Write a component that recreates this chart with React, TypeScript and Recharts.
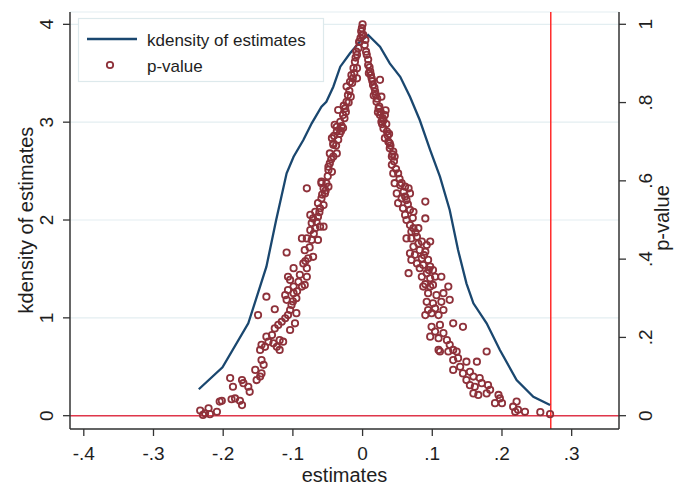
import { ComposedChart, Line, Scatter, XAxis, YAxis, CartesianGrid, ReferenceLine } from 'recharts';

const FONT = '"Liberation Sans", Arial, Helvetica, sans-serif';
const AXIS = '#333333';
const GRID = '#e3eef1';
const NAVY = '#1a476f';
const MAROON = '#8e313a';
const RED = '#ff2b2b';
const TEXT = '#1e1e1e';

// axis ticks
const X_TICKS = [-0.4, -0.3, -0.2, -0.1, 0, 0.1, 0.2, 0.3];
const X_LABELS = ['-.4', '-.3', '-.2', '-.1', '0', '.1', '.2', '.3'];
const DENS_TICKS = [0, 1, 2, 3, 4];
const P_TICKS = [0, 0.2, 0.4, 0.6, 0.8, 1];
const P_LABELS = ['0', '.2', '.4', '.6', '.8', '1'];

const ESTIMATE = 0.27;

// kdensity of estimates
const kdX = [
  -0.235, -0.201, -0.164, -0.138, -0.124, -0.109, -0.099, -0.085, -0.073, -0.059, -0.052,
  -0.042, -0.032, -0.018, -0.004, 0.008, 0.025, 0.039, 0.054, 0.068, 0.082, 0.097, 0.111,
  0.125, 0.137, 0.149, 0.159, 0.178, 0.197, 0.221, 0.245, 0.269,
];
const kdY = [
  0.27, 0.495, 0.944, 1.523, 2.0, 2.477, 2.647, 2.818, 2.988, 3.158, 3.209,
  3.362, 3.567, 3.704, 3.822, 3.891, 3.771, 3.601, 3.464, 3.26, 3.022, 2.715, 2.443,
  2.102, 1.693, 1.353, 1.149, 0.944, 0.671, 0.365, 0.194, 0.109,
];

// p-values, left of zero: [estimate, p]
const pLeft: [number, number][] = [
  [-0.233, 0.013], [-0.226, 0.006], [-0.221, 0.019], [-0.209, 0.01], [-0.219, 0.004], [-0.229, 0.002],
  [-0.205, 0.036], [-0.202, 0.038], [-0.188, 0.042], [-0.183, 0.044], [-0.176, 0.038], [-0.173, 0.027],
  [-0.19, 0.096], [-0.186, 0.074], [-0.173, 0.091], [-0.171, 0.083], [-0.164, 0.074], [-0.162, 0.061],
  [-0.154, 0.117], [-0.152, 0.091], [-0.147, 0.1], [-0.145, 0.108], [-0.142, 0.13], [-0.145, 0.142],
  [-0.147, 0.168], [-0.145, 0.181], [-0.14, 0.176], [-0.135, 0.189], [-0.138, 0.202], [-0.13, 0.206],
  [-0.128, 0.185], [-0.123, 0.176], [-0.119, 0.168], [-0.114, 0.189], [-0.119, 0.193], [-0.15, 0.257],
  [-0.138, 0.304], [-0.126, 0.223], [-0.121, 0.232], [-0.116, 0.24], [-0.111, 0.249], [-0.107, 0.257],
  [-0.104, 0.27], [-0.102, 0.283], [-0.109, 0.296], [-0.111, 0.308], [-0.107, 0.321], [-0.099, 0.313],
  [-0.095, 0.3], [-0.097, 0.236], [-0.104, 0.219], [-0.095, 0.262], [-0.126, 0.272],
  [-0.08, 0.581], [-0.109, 0.417], [-0.099, 0.377], [-0.107, 0.355], [-0.104, 0.347], [-0.092, 0.342],
  [-0.087, 0.33], [-0.099, 0.33], [-0.08, 0.355], [-0.083, 0.334], [-0.08, 0.377], [-0.085, 0.389],
  [-0.078, 0.402], [-0.071, 0.406], [-0.083, 0.423], [-0.087, 0.453], [-0.08, 0.453], [-0.073, 0.449],
  [-0.064, 0.449], [-0.075, 0.474], [-0.073, 0.492], [-0.068, 0.479], [-0.061, 0.483], [-0.056, 0.483],
  [-0.075, 0.513], [-0.071, 0.504], [-0.064, 0.508], [-0.068, 0.521], [-0.061, 0.53], [-0.064, 0.543],
  [-0.056, 0.538], [-0.059, 0.555], [-0.054, 0.568], [-0.056, 0.581], [-0.049, 0.585], [-0.059, 0.594],
  [-0.052, 0.594], [-0.049, 0.628], [-0.044, 0.623], [-0.047, 0.645], [-0.042, 0.662], [-0.047, 0.67],
  [-0.037, 0.67], [-0.059, 0.598], [-0.049, 0.636],
  [-0.042, 0.692], [-0.044, 0.709], [-0.037, 0.726], [-0.04, 0.743], [-0.032, 0.751], [-0.028, 0.768],
  [-0.025, 0.785], [-0.023, 0.802], [-0.021, 0.819], [-0.023, 0.841], [-0.018, 0.853], [-0.016, 0.87],
  [-0.013, 0.888], [-0.011, 0.904], [-0.008, 0.922], [-0.006, 0.939], [-0.004, 0.956], [-0.001, 0.973],
  [-0.001, 0.99], [-0.009, 0.93], [-0.008, 0.888], [-0.008, 0.862], [-0.037, 0.738], [-0.035, 0.781],
  [-0.042, 0.696], [-0.03, 0.74], [-0.035, 0.705], [-0.02, 0.8], [-0.026, 0.76], [-0.015, 0.85],
  [-0.012, 0.875], [-0.019, 0.83], [-0.005, 0.955], [-0.003, 0.965], [-0.038, 0.69], [-0.033, 0.72],
  [-0.028, 0.735], [-0.024, 0.776], [-0.017, 0.815],
  [-0.045, 0.655], [-0.05, 0.612], [-0.053, 0.575], [-0.058, 0.565], [-0.062, 0.52], [-0.066, 0.495],
  [-0.07, 0.465], [-0.076, 0.43], [-0.082, 0.395], [-0.09, 0.36], [-0.094, 0.318], [-0.1, 0.292],
  [-0.041, 0.715], [-0.031, 0.727], [-0.027, 0.792], [-0.014, 0.862], [-0.01, 0.915], [-0.002, 0.982],
];

// p-values, right of zero
const pRight: [number, number][] = [
  [0.0, 1.0], [0.001, 0.973], [0.003, 0.947], [0.006, 0.922], [0.008, 0.896], [0.011, 0.879],
  [0.013, 0.862], [0.015, 0.845], [0.018, 0.828], [0.02, 0.802], [0.023, 0.785], [0.025, 0.768],
  [0.027, 0.751], [0.032, 0.768], [0.03, 0.734], [0.035, 0.726], [0.032, 0.709], [0.037, 0.7],
  [0.039, 0.683], [0.044, 0.675], [0.042, 0.662], [0.025, 0.858], [0.027, 0.815], [0.033, 0.78],
  [0.028, 0.745], [0.039, 0.696], [0.046, 0.662], [0.051, 0.619], [0.056, 0.594], [0.061, 0.56],
  [0.09, 0.547], [0.09, 0.504], [0.066, 0.581], [0.068, 0.568],
  [0.005, 0.93], [0.01, 0.89], [0.014, 0.855], [0.017, 0.838], [0.021, 0.81], [0.024, 0.79],
  [0.019, 0.82], [0.012, 0.87], [0.008, 0.91], [0.03, 0.755], [0.026, 0.776], [0.036, 0.716],
  [0.04, 0.69], [0.043, 0.668],
  [0.042, 0.641], [0.044, 0.619], [0.046, 0.594], [0.054, 0.589], [0.061, 0.585], [0.049, 0.568],
  [0.056, 0.555], [0.063, 0.551], [0.051, 0.543], [0.058, 0.53], [0.068, 0.526], [0.073, 0.521],
  [0.061, 0.513], [0.063, 0.5], [0.068, 0.487], [0.073, 0.479], [0.08, 0.479], [0.07, 0.47],
  [0.063, 0.453], [0.07, 0.453], [0.078, 0.457], [0.085, 0.445], [0.097, 0.445], [0.092, 0.436],
  [0.073, 0.432], [0.068, 0.415], [0.075, 0.411], [0.082, 0.423], [0.09, 0.419], [0.07, 0.398],
  [0.078, 0.389], [0.085, 0.402], [0.094, 0.398], [0.087, 0.385], [0.097, 0.381], [0.082, 0.377],
  [0.066, 0.364], [0.101, 0.372], [0.092, 0.364], [0.085, 0.355], [0.097, 0.351], [0.104, 0.355],
  [0.113, 0.355], [0.087, 0.33], [0.097, 0.33], [0.101, 0.334], [0.123, 0.33], [0.09, 0.336],
  [0.094, 0.313], [0.106, 0.308], [0.116, 0.313], [0.092, 0.291], [0.101, 0.287], [0.113, 0.291],
  [0.125, 0.296], [0.094, 0.27], [0.104, 0.274], [0.116, 0.27], [0.09, 0.257], [0.099, 0.262],
  [0.109, 0.257], [0.099, 0.227], [0.111, 0.232], [0.13, 0.236], [0.144, 0.227], [0.104, 0.215],
  [0.116, 0.211], [0.097, 0.202], [0.109, 0.198], [0.121, 0.193], [0.125, 0.181], [0.13, 0.168],
  [0.109, 0.168], [0.111, 0.164], [0.123, 0.164], [0.135, 0.164], [0.178, 0.164], [0.13, 0.142],
  [0.137, 0.147], [0.149, 0.138], [0.164, 0.138], [0.13, 0.117], [0.14, 0.125], [0.144, 0.108],
  [0.154, 0.112], [0.159, 0.1], [0.168, 0.096], [0.149, 0.091], [0.154, 0.078], [0.161, 0.074],
  [0.171, 0.083], [0.18, 0.078], [0.159, 0.057], [0.166, 0.053], [0.178, 0.057], [0.183, 0.066],
  [0.195, 0.053], [0.197, 0.044], [0.19, 0.032], [0.2, 0.032], [0.216, 0.023], [0.221, 0.036],
  [0.223, 0.015], [0.233, 0.01], [0.219, 0.01], [0.255, 0.009], [0.269, 0.004],
  [0.004, 0.96], [0.009, 0.875], [0.016, 0.818], [0.022, 0.775], [0.029, 0.76], [0.034, 0.745],
  [0.038, 0.72], [0.045, 0.65], [0.048, 0.63], [0.053, 0.605], [0.059, 0.572], [0.065, 0.54],
  [0.072, 0.505], [0.076, 0.468], [0.08, 0.44], [0.088, 0.41], [0.095, 0.372],
];

const kdData = kdX.map((x, i) => ({ x, y: kdY[i] }));
const pData = [...pLeft, ...pRight].map(([x, p]) => ({ x, p }));

const XTick = ({ x, index }: any) => (
  <text x={x} y={460} textAnchor="middle" fontSize={19} fill={TEXT} fontFamily={FONT}>
    {X_LABELS[index]}
  </text>
);

const LeftTick = ({ y, payload }: any) => (
  <text x={53} y={y} transform={`rotate(-90 53 ${y})`} textAnchor="middle" fontSize={19} fill={TEXT} fontFamily={FONT}>
    {payload.value}
  </text>
);

const RightTick = ({ y, index }: any) => (
  <text x={652} y={y} transform={`rotate(-90 652 ${y})`} textAnchor="middle" fontSize={19} fill={TEXT} fontFamily={FONT}>
    {P_LABELS[index]}
  </text>
);

const Ring = ({ cx, cy }: any) => (
  <circle cx={cx} cy={cy} r={3.2} fill="none" stroke={MAROON} strokeWidth={1.8} />
);

export default function App() {
  return (
    <div style={{ position: 'absolute', left: 0, top: 0, width: 675, height: 485, background: '#fff' }}>
      <ComposedChart width={675} height={485} margin={{ top: 12, right: 6, bottom: 6, left: 20 }}>
        <CartesianGrid yAxisId="l" vertical={false} stroke={GRID} strokeWidth={1.2} />
        <XAxis
          dataKey="x"
          type="number"
          domain={[-0.4198, 0.3679]}
          allowDataOverflow
          ticks={X_TICKS}
          interval={0}
          height={50}
          tick={XTick}
          tickSize={7}
          axisLine={{ stroke: AXIS, strokeWidth: 1.5 }}
          tickLine={{ stroke: AXIS, strokeWidth: 1.3 }}
        />
        <YAxis
          yAxisId="l"
          type="number"
          domain={[-0.136, 4.126]}
          allowDataOverflow
          ticks={DENS_TICKS}
          interval={0}
          width={50}
          tick={LeftTick}
          tickSize={7}
          axisLine={{ stroke: AXIS, strokeWidth: 1.5 }}
          tickLine={{ stroke: AXIS, strokeWidth: 1.3 }}
        />
        <YAxis
          yAxisId="r"
          orientation="right"
          type="number"
          domain={[-0.034, 1.0314]}
          allowDataOverflow
          ticks={P_TICKS}
          interval={0}
          width={50}
          tick={RightTick}
          tickSize={7}
          axisLine={{ stroke: AXIS, strokeWidth: 1.5 }}
          tickLine={{ stroke: AXIS, strokeWidth: 1.3 }}
        />
        <ReferenceLine yAxisId="l" y={0} stroke="#e0364a" strokeWidth={1.5} />
        <ReferenceLine yAxisId="l" x={ESTIMATE} stroke={RED} strokeWidth={1.5} />
        <Line
          data={kdData}
          yAxisId="l"
          dataKey="y"
          type="linear"
          stroke={NAVY}
          strokeWidth={2.3}
          dot={false}
          isAnimationActive={false}
        />
        <Scatter data={pData} yAxisId="r" dataKey="p" shape={Ring} isAnimationActive={false} />
      </ComposedChart>

      <svg width={675} height={485} style={{ position: 'absolute', left: 0, top: 0, pointerEvents: 'none' }} fontFamily={FONT}>
        <rect x={78.5} y={18.5} width={245} height={63} fill="#fff" stroke="#dde9ec" strokeWidth={1.2} />
        <line x1={87} y1={39} x2={137} y2={39} stroke={NAVY} strokeWidth={2.5} />
        <text x={147} y={45.5} fontSize={17} fill={TEXT}>kdensity of estimates</text>
        <circle cx={110} cy={65} r={3.2} fill="none" stroke={MAROON} strokeWidth={1.8} />
        <text x={147} y={71.5} fontSize={17} fill={TEXT}>p-value</text>

        <text x={33} y={220} transform="rotate(-90 33 220)" textAnchor="middle" fontSize={20} fill={TEXT}>
          kdensity of estimates
        </text>
        <text x={669} y={218} transform="rotate(-90 669 218)" textAnchor="middle" fontSize={20} fill={TEXT}>
          p-value
        </text>
        <text x={344.5} y={482} textAnchor="middle" fontSize={20} fill={TEXT}>
          estimates
        </text>
      </svg>
    </div>
  );
}
